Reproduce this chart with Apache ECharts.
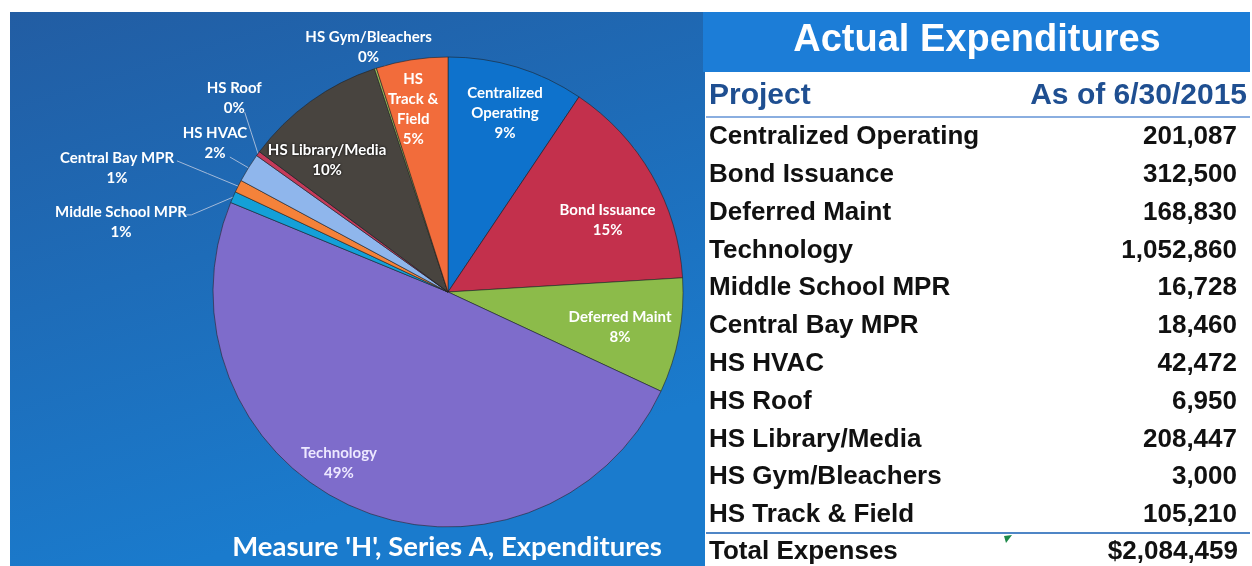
<!DOCTYPE html>
<html><head><meta charset="utf-8">
<script src="https://cdn.jsdelivr.net/npm/echarts@6/dist/echarts.min.js"></script>
<style>html,body{margin:0;padding:0;background:#fff}#c{width:1252px;height:566px}</style>
</head><body><div id="c"></div>
<script>
// ---- data ----
const projects = ['Centralized Operating','Bond Issuance','Deferred Maint','Technology','Middle School MPR','Central Bay MPR','HS HVAC','HS Roof','HS Library/Media','HS Gym/Bleachers','HS Track & Field'];
const pieLabels = ['Centralized\nOperating','Bond Issuance','Deferred Maint','Technology','Middle School MPR','Central Bay MPR','HS HVAC','HS Roof','HS Library/Media','HS Gym/Bleachers','HS\nTrack &\nField'];
const expenditures = [201087,312500,168830,1052860,16728,18460,42472,6950,208447,3000,105210];
const tableTitle = 'Actual Expenditures';
const headerProject = 'Project';
const headerDate = 'As of 6/30/2015';
const totalLabel = 'Total Expenses';
const totalText = '$2,084,459';
const chartTitle = "Measure 'H', Series A, Expenditures";
const sliceColors = ['#0E72CC','#C3304C','#8CBB4A','#7E6CCB','#14A0D8','#F4823A','#8FB6EC','#C53B5A','#48443F','#9BBB59','#F26C3B'];

// ---- layout / style ----
const PIE_C = [448, 292], PIE_R = 235;
// label placement: [radius factor, angular shift in degrees] relative to slice mid-angle (Excel "best fit" look)
const labelPlace = {0:[0.80,0.7], 1:[0.745,5.5], 2:[0.747,0.7], 3:[0.864,8.8], 8:[0.762,-6.7], 10:[0.793,-1.9],
                    4:[1.423,-11.7], 5:[1.504,-6.2], 6:[1.177,0.7], 7:[1.229,6.2], 9:[1.095,0]};
// leader-line anchor on the label box, as fractions of half width / half height
const leaderAnchor = {4:[0.99,-0.35,true], 5:[1.05,-0.35,false], 6:[0.46,0.7,false], 7:[0.38,0.72,false]};
const insideSet = {0:1,1:1,2:1,3:1,8:1,10:1};
const ROW0 = 137, ROW_H = 37.8;
const tableFont = '"Liberation Sans", Arial, sans-serif';
const pieFont = 'Lato, "Open Sans", sans-serif';

// mid-angles (clockwise from 12 o'clock) from the data
const totalVal = expenditures.reduce((a,b)=>a+b,0);
const midAngles = [];
let acc = 0;
expenditures.forEach(v=>{ midAngles.push((acc + v/2)/totalVal*360); acc += v; });

const chart = echarts.init(document.getElementById('c'), null, {renderer:'canvas'});

const graphics = [
  {type:'rect', z:-10, shape:{x:10,y:12,width:695,height:554},
   style:{fill:new echarts.graphic.LinearGradient(0,0,0.25,1,[{offset:0,color:'#225DA3'},{offset:1,color:'#1A7BCD'}])}},
  {type:'rect', z:-9, shape:{x:703,y:12,width:547,height:60}, style:{fill:'#1C7DD7'}},
  {type:'rect', z:-9, shape:{x:706,y:72,width:546,height:494}, style:{fill:'#ffffff'}},
  {type:'text', z:5, style:{text:tableTitle, x:977, y:41, align:'center', verticalAlign:'middle', fill:'#fff', font:'bold 38px '+tableFont}},
  {type:'text', z:5, style:{text:headerProject, x:709, y:96, align:'left', verticalAlign:'middle', fill:'#1F4F91', font:'bold 30px '+tableFont}},
  {type:'text', z:5, style:{text:headerDate, x:1247, y:96, align:'right', verticalAlign:'middle', fill:'#1F4F91', font:'bold 30px '+tableFont}},
  {type:'line', z:5, shape:{x1:706,y1:117,x2:1250,y2:117}, style:{stroke:'#8AAEE0', lineWidth:2}},
  {type:'line', z:5, shape:{x1:706,y1:533,x2:1250,y2:533}, style:{stroke:'#4F86C6', lineWidth:2}},
  {type:'polygon', z:5, shape:{points:[[1004,536],[1012,535],[1006,543]]}, style:{fill:'#1E8A4A'}},
  {type:'text', z:5, style:{text:chartTitle, x:447, y:547, align:'center', verticalAlign:'middle', fill:'#fff', font:'bold 27.5px '+pieFont}}
];
projects.forEach((p,i)=>{
  const y = ROW0 + i*ROW_H;
  graphics.push({type:'text', z:5, style:{text:p, x:709, y:y, align:'left', verticalAlign:'middle', fill:'#111', font:'bold 26px '+tableFont}});
  graphics.push({type:'text', z:5, style:{text:expenditures[i].toLocaleString('en-US'), x:1237, y:y, align:'right', verticalAlign:'middle', fill:'#111', font:'bold 26px '+tableFont}});
});
const yT = ROW0 + projects.length*ROW_H - 1;
graphics.push({type:'text', z:5, style:{text:totalLabel, x:709, y:yT, align:'left', verticalAlign:'middle', fill:'#111', font:'bold 26px '+tableFont}});
graphics.push({type:'text', z:5, style:{text:totalText, x:1238, y:yT, align:'right', verticalAlign:'middle', fill:'#111', font:'bold 26px '+tableFont}});

chart.setOption({
  animation:false,
  graphic: graphics,
  series:[{
    type:'pie', center:PIE_C, radius:PIE_R, startAngle:90, clockwise:true, percentPrecision:0,
    silent:true,
    itemStyle:{borderColor:'rgba(30,30,30,0.55)', borderWidth:1},
    label:{
      formatter:(p)=>pieLabels[p.dataIndex]+'\n'+p.percent+'%',
      color:'#fff', fontFamily:pieFont, fontWeight:'bold', fontSize:15, lineHeight:20
    },
    labelLine:{length:12, length2:18, lineStyle:{color:'#A3B9D8', width:1}},
    data: projects.map((p,i)=>{
      const d = {name:p, value:expenditures[i], itemStyle:{color:sliceColors[i]},
        label:{position: insideSet[i] ? 'inside' : 'outside'}};
      if (i === 8) { d.label.textShadowColor = '#000'; d.label.textShadowBlur = 3; }
      if (i === 3) d.label.color = '#EDE8FF';
      if (i === 9) d.labelLine = {show:false};
      return d;
    }),
    labelLayout:(params)=>{
      const i = params.dataIndex;
      const pl = labelPlace[i];
      if (!pl) return {};
      const th = (midAngles[i] + pl[1]) * Math.PI/180;
      const lx = PIE_C[0] + Math.sin(th)*pl[0]*PIE_R, ly = PIE_C[1] - Math.cos(th)*pl[0]*PIE_R;
      const out = {x: lx, y: ly, align:'center', verticalAlign:'middle'};
      const an = leaderAnchor[i];
      if (an) {
        const w = params.labelRect.width, h = params.labelRect.height;
        const ax = lx + an[0]*w/2, ay = ly + an[1]*h/2;
        const m = midAngles[i]*Math.PI/180;
        const ex = PIE_C[0] + Math.sin(m)*PIE_R, ey = PIE_C[1] - Math.cos(m)*PIE_R;
        const bend = an[2] ? [ax + 5, ay] : [(ax+ex)/2, (ay+ey)/2];
        out.labelLinePoints = [[ex, ey], bend, [ax, ay]];
      }
      return out;
    }
  }]
});
</script></body></html>
